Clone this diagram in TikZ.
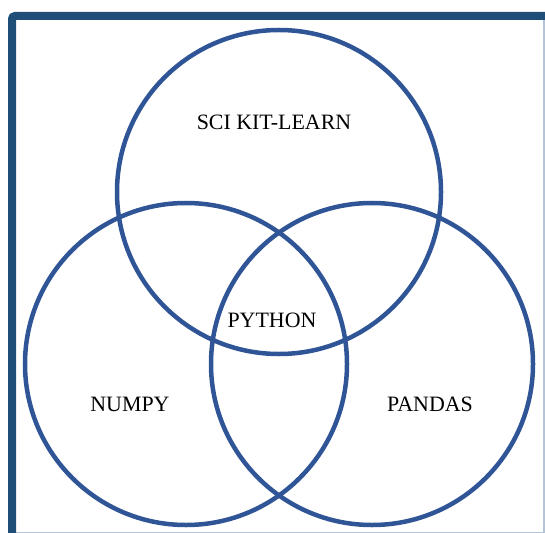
\documentclass[tikz,border=0pt]{standalone}
\usepackage{fontspec}
\setmainfont{Liberation Serif}
\definecolor{framebl}{HTML}{1F4E79}
\definecolor{ringbl}{HTML}{2F5597}
\definecolor{edgegr}{HTML}{B4C4D4}
\begin{document}
\begin{tikzpicture}[x=1bp,y=-1bp,
  ring/.style={draw=ringbl,line width=4.5bp},
  lbl/.style={font=\fontsize{22}{26}\selectfont,inner sep=0pt}]
\useasboundingbox (0,0) rectangle (545,533);
% frame
\draw[edgegr,line width=1.5bp] (544,20) -- (544,532.5) -- (16,532.5);
\draw[framebl,line width=8bp,rounded corners=3bp] (12,533) -- (12,16) -- (545,16);
% circles
\node[ring,circle,minimum size=324bp,inner sep=0pt] (sk) at (279,192) {};
\node[ring,circle,minimum size=322bp,inner sep=0pt] (np) at (186,364) {};
\node[ring,circle,minimum size=322bp,inner sep=0pt] (pd) at (372,364) {};
% labels
\node[lbl] (tsk) at (274,122) {SCI KIT-LEARN};
\node[lbl] (tpy) at (272,320) {PYTHON};
\node[lbl] (tnp) at (130,404) {NUMPY};
\node[lbl] (tpd) at (430,404) {PANDAS};
\end{tikzpicture}
\end{document}
